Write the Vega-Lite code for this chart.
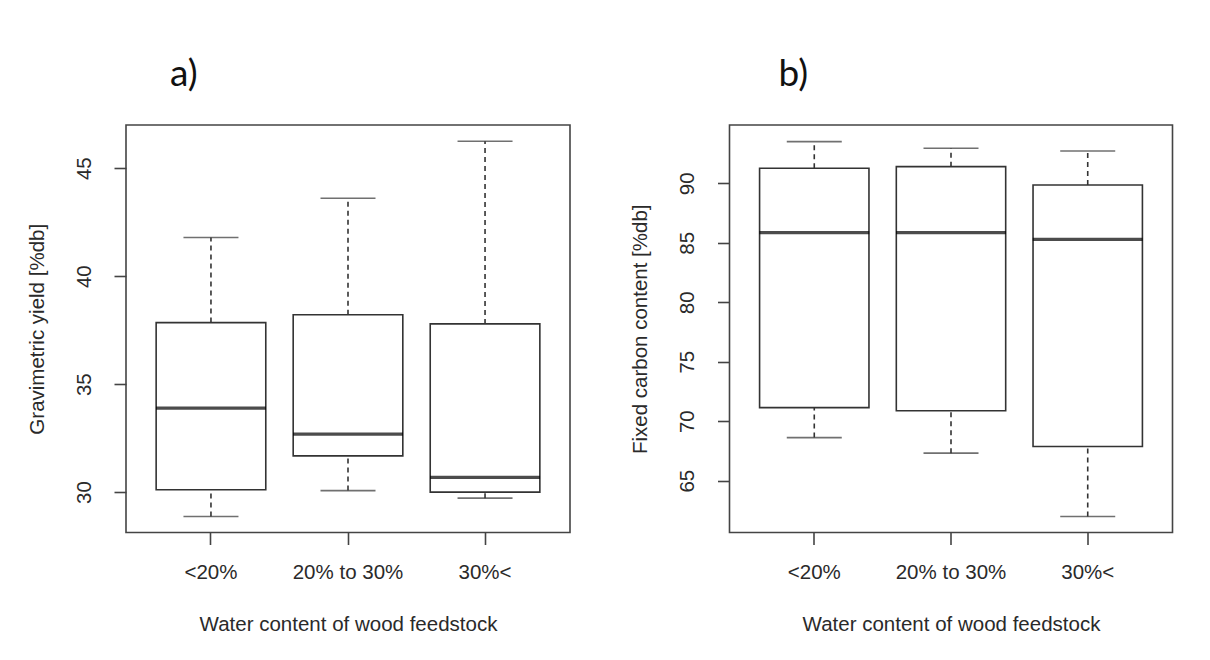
{
  "$schema": "https://vega.github.io/schema/vega-lite/v6.json",
  "background": "white",
  "autosize": {"type": "pad"},
  "padding": {"left": 26, "top": 55, "right": 0, "bottom": 0},
  "spacing": 58.5,
  "datasets": {
    "yield": [
      {"water": "<20%", "lower": 28.87, "q1": 30.11, "median": 33.89, "q3": 37.85, "upper": 41.79},
      {"water": "20% to 30%", "lower": 30.07, "q1": 31.68, "median": 32.69, "q3": 38.21, "upper": 43.61},
      {"water": "30%<", "lower": 29.72, "q1": 30.0, "median": 30.68, "q3": 37.79, "upper": 46.25}
    ],
    "carbon": [
      {"water": "<20%", "lower": 68.62, "q1": 71.14, "median": 85.85, "q3": 91.26, "upper": 93.5},
      {"water": "20% to 30%", "lower": 67.31, "q1": 70.87, "median": 85.85, "q3": 91.4, "upper": 92.94},
      {"water": "30%<", "lower": 61.98, "q1": 67.87, "median": 85.29, "q3": 89.86, "upper": 92.71}
    ]
  },
  "config": {
    "view": {"stroke": "#444", "strokeWidth": 1.6},
    "axis": {
      "labelFont": "Liberation Sans", "labelFontSize": 20.5, "labelColor": "#2a2a2a",
      "titleFont": "Liberation Sans", "titleFontSize": 20.5, "titleFontWeight": "normal", "titleColor": "#2a2a2a",
      "tickColor": "#444", "tickWidth": 1.6, "tickSize": 12, "domain": false, "grid": false
    },
    "axisY": {"labelAngle": -90, "labelAlign": "center", "labelBaseline": "bottom", "labelPadding": 20, "titlePadding": 27},
    "axisX": {"labelAngle": 0, "labelPadding": 18, "titlePadding": 31},
    "title": {"font": "Lato", "fontSize": 37, "fontWeight": "normal", "color": "#111", "anchor": "start", "frame": "group", "baseline": "alphabetic", "offset": 31}
  },
  "hconcat": [
    {
      "width": 444, "height": 407.5,
      "title": {"text": "a)", "dx": 44},
      "data": {"name": "yield"},
      "encoding": {
        "x": {"field": "water", "type": "nominal", "sort": ["<20%", "20% to 30%", "30%<"],
              "scale": {"type": "band", "paddingInner": 0.2, "paddingOuter": 0.22},
              "title": "Water content of wood feedstock"}
      },
      "layer": [
        {"mark": {"type": "rule", "color": "#333", "strokeWidth": 1.6, "strokeDash": [5, 4]},
         "encoding": {"y": {"field": "q3", "type": "quantitative", "title": "Gravimetric yield [%db]",
                            "scale": {"domain": [28.13, 47.0], "nice": false, "zero": false},
                            "axis": {"values": [30, 35, 40, 45]}},
                      "y2": {"field": "upper"}}},
        {"mark": {"type": "rule", "color": "#333", "strokeWidth": 1.6, "strokeDash": [5, 4]},
         "encoding": {"y": {"field": "lower", "type": "quantitative", "title": "Gravimetric yield [%db]"},
                      "y2": {"field": "q1"}}},
        {"mark": {"type": "bar", "fill": "white", "stroke": "#333", "strokeWidth": 1.6},
         "encoding": {"y": {"field": "q1", "type": "quantitative", "title": "Gravimetric yield [%db]"},
                      "y2": {"field": "q3"}}},
        {"mark": {"type": "tick", "color": "black", "size": 110, "thickness": 3.2},
         "encoding": {"y": {"field": "median", "type": "quantitative", "title": "Gravimetric yield [%db]"}}},
        {"mark": {"type": "tick", "color": "#333", "size": 55, "thickness": 1.6},
         "encoding": {"y": {"field": "upper", "type": "quantitative", "title": "Gravimetric yield [%db]"}}},
        {"mark": {"type": "tick", "color": "#333", "size": 55, "thickness": 1.6},
         "encoding": {"y": {"field": "lower", "type": "quantitative", "title": "Gravimetric yield [%db]"}}}
      ]
    },
    {
      "width": 443, "height": 407.5,
      "title": {"text": "b)", "dx": 49},
      "data": {"name": "carbon"},
      "encoding": {
        "x": {"field": "water", "type": "nominal", "sort": ["<20%", "20% to 30%", "30%<"],
              "scale": {"type": "band", "paddingInner": 0.2, "paddingOuter": 0.22},
              "title": "Water content of wood feedstock"}
      },
      "layer": [
        {"mark": {"type": "rule", "color": "#333", "strokeWidth": 1.6, "strokeDash": [5, 4]},
         "encoding": {"y": {"field": "q3", "type": "quantitative", "title": "Fixed carbon content [%db]",
                            "scale": {"domain": [60.64, 94.9], "nice": false, "zero": false},
                            "axis": {"values": [65, 70, 75, 80, 85, 90]}},
                      "y2": {"field": "upper"}}},
        {"mark": {"type": "rule", "color": "#333", "strokeWidth": 1.6, "strokeDash": [5, 4]},
         "encoding": {"y": {"field": "lower", "type": "quantitative", "title": "Fixed carbon content [%db]"},
                      "y2": {"field": "q1"}}},
        {"mark": {"type": "bar", "fill": "white", "stroke": "#333", "strokeWidth": 1.6},
         "encoding": {"y": {"field": "q1", "type": "quantitative", "title": "Fixed carbon content [%db]"},
                      "y2": {"field": "q3"}}},
        {"mark": {"type": "tick", "color": "black", "size": 110, "thickness": 3.2},
         "encoding": {"y": {"field": "median", "type": "quantitative", "title": "Fixed carbon content [%db]"}}},
        {"mark": {"type": "tick", "color": "#333", "size": 55, "thickness": 1.6},
         "encoding": {"y": {"field": "upper", "type": "quantitative", "title": "Fixed carbon content [%db]"}}},
        {"mark": {"type": "tick", "color": "#333", "size": 55, "thickness": 1.6},
         "encoding": {"y": {"field": "lower", "type": "quantitative", "title": "Fixed carbon content [%db]"}}}
      ]
    }
  ]
}
